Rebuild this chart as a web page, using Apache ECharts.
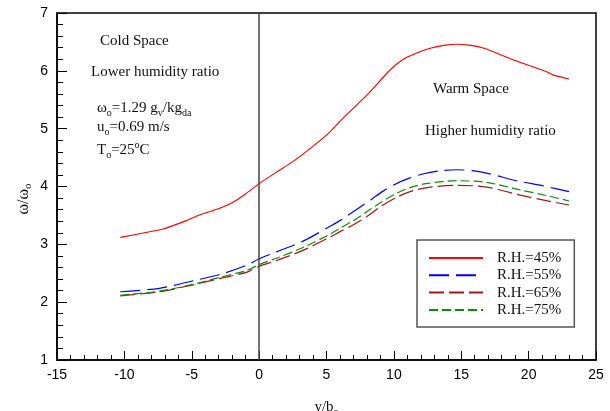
<!DOCTYPE html>
<html>
<head>
<meta charset="utf-8">
<script src="https://cdn.jsdelivr.net/npm/echarts@6/dist/echarts.min.js"></script>
<style>
html,body{margin:0;padding:0;background:#fff;}
#chart{width:610px;height:411px;}
</style>
</head>
<body>
<div id="chart"></div>
<script>
// ---- data ----
const seriesNames = ['R.H.=45%', 'R.H.=55%', 'R.H.=65%', 'R.H.=75%'];

const x45 = [-10.3, -8.5, -7.2, -5.4, -4.4, -3.1, -2.0, -1.2, 0, 1.3, 2.5, 3.8, 5.1, 6.3, 8.0, 9.7, 10.7, 11.7, 12.7, 13.7, 14.7, 15.7, 16.7, 17.9, 19.1, 20.2, 21.3, 21.8, 23.0];
const y45 = [3.12, 3.20, 3.26, 3.41, 3.51, 3.61, 3.72, 3.84, 4.05, 4.25, 4.43, 4.66, 4.91, 5.20, 5.58, 6.01, 6.20, 6.31, 6.39, 6.44, 6.46, 6.44, 6.39, 6.28, 6.17, 6.08, 5.99, 5.93, 5.86];

const x55 = [-10.3, -7.4, -4.9, -2.9, -0.9, 0, 1.3, 3.3, 5.4, 6.0, 7.4, 8.4, 9.2, 10.1, 11.1, 12.2, 13.4, 14.7, 16.7, 19.1, 21.1, 23.0];
const y55 = [2.18, 2.24, 2.37, 2.48, 2.64, 2.75, 2.87, 3.06, 3.33, 3.41, 3.63, 3.79, 3.92, 4.04, 4.14, 4.22, 4.27, 4.29, 4.24, 4.10, 4.01, 3.91];

const x65 = [-10.3, -7.4, -4.9, -2.9, -0.9, 0, 1.3, 3.3, 5.3, 6.0, 7.0, 8.0, 9.0, 10.1, 11.3, 12.7, 14.7, 16.9, 19.4, 21.4, 23.0];
const y65 = [2.11, 2.18, 2.30, 2.41, 2.52, 2.62, 2.72, 2.90, 3.13, 3.22, 3.34, 3.48, 3.65, 3.80, 3.92, 3.99, 4.02, 3.99, 3.85, 3.75, 3.68];

const x75 = [-10.3, -7.4, -4.9, -2.9, -0.9, 0, 1.3, 3.3, 5.3, 6.0, 7.0, 7.9, 9.0, 10.1, 11.2, 12.4, 14.7, 16.9, 19.4, 21.4, 23.0];
const y75 = [2.12, 2.19, 2.31, 2.43, 2.55, 2.65, 2.76, 2.95, 3.18, 3.28, 3.41, 3.55, 3.72, 3.87, 3.98, 4.05, 4.10, 4.07, 3.94, 3.84, 3.75];

const xTicks = [-15, -10, -5, 0, 5, 10, 15, 20, 25];
const yTicks = [1, 2, 3, 4, 5, 6, 7];
const dividerX = 0;

function pairs(xs, ys) { return xs.map((x, i) => [x, ys[i]]); }

const serif = '"Liberation Serif", "Times New Roman", serif';
const sans = '"Liberation Sans", Arial, sans-serif';

const chart = echarts.init(document.getElementById('chart'), null, {renderer: 'canvas'});

const richSub = {
  n: {fontFamily: serif, fontSize: 15, lineHeight: 20, verticalAlign: 'middle', color: '#111'},
  s: {fontFamily: serif, fontSize: 10, lineHeight: 10, verticalAlign: 'bottom', color: '#111'},
  p: {fontFamily: serif, fontSize: 10, lineHeight: 10, verticalAlign: 'top', color: '#111'}
};
const richYName = {
  n: {fontFamily: serif, fontSize: 16, lineHeight: 20, verticalAlign: 'middle', color: '#111'},
  s: {fontFamily: serif, fontSize: 11, lineHeight: 10, verticalAlign: 'bottom', color: '#111'}
};

function txt(x, y, text) {
  return {
    type: 'text', left: x, top: y,
    style: {text: text, rich: richSub, fontFamily: serif, fontSize: 15, fill: '#111'}
  };
}

const option = {
  backgroundColor: '#fff',
  animation: false,
  grid: {left: 57, right: 14, top: 13, bottom: 51, containLabel: false, outerBoundsMode: 'none',
         show: true, borderColor: '#000', borderWidth: 1.5, backgroundColor: 'transparent'},
  xAxis: {
    type: 'value', min: xTicks[0], max: xTicks[xTicks.length - 1], interval: 5,
    name: '{n|y/b}{s|o}', nameLocation: 'middle', nameGap: 37,
    nameTextStyle: {rich: richSub},
    axisLine: {show: true, onZero: false, lineStyle: {color: '#000', width: 1.5}},
    axisTick: {show: true, inside: true, length: 9, lineStyle: {color: '#000', width: 1}},
    minorTick: {show: true, splitNumber: 5, length: 5, lineStyle: {color: '#000', width: 1}},
    splitLine: {show: false},
    axisLabel: {color: '#000', fontFamily: sans, fontSize: 14, margin: 8}
  },
  yAxis: {
    type: 'value', min: yTicks[0], max: yTicks[yTicks.length - 1], interval: 1,
    axisLine: {show: true, onZero: false, lineStyle: {color: '#000', width: 1.5}},
    axisTick: {show: true, inside: true, length: 10, lineStyle: {color: '#000', width: 1}},
    minorTick: {show: true, splitNumber: 5, length: 6, lineStyle: {color: '#000', width: 1}},
    splitLine: {show: false},
    axisLabel: {color: '#000', fontFamily: sans, fontSize: 14, margin: 9}
  },
  legend: {
    orient: 'vertical', left: 417, top: 240,
    data: seriesNames,
    itemWidth: 54, itemHeight: 14, itemGap: 0.3,
    padding: [9.5, 13, 8.5, 11],
    borderColor: '#555', borderWidth: 1.5,
    backgroundColor: '#fff',
    itemStyle: {opacity: 0},
    textStyle: {fontFamily: serif, fontSize: 15, lineHeight: 17, color: '#111', padding: [0, 0, 0, 9]},
    selectedMode: false
  },
  series: [
    {
      name: seriesNames[0], type: 'line', data: pairs(x45, y45), showSymbol: false, symbol: 'none', smooth: 0.2,
      lineStyle: {color: '#ff0000', width: 1.1, type: 'solid'}, itemStyle: {color: '#ff0000'},
      markLine: {
        silent: true, symbol: 'none', label: {show: false},
        lineStyle: {color: '#444', width: 1.5, type: 'solid'},
        data: [{xAxis: dividerX}]
      },
      z: 3
    },
    {
      name: seriesNames[1], type: 'line', data: pairs(x55, y55), showSymbol: false, symbol: 'none', smooth: 0.3,
      lineStyle: {color: '#0000ff', width: 1.2, type: [20, 7]}, itemStyle: {color: '#0000ff'}
    },
    {
      name: seriesNames[2], type: 'line', data: pairs(x65, y65), showSymbol: false, symbol: 'none', smooth: 0.3,
      lineStyle: {color: '#a01818', width: 1.2, type: [15, 5]}, itemStyle: {color: '#a01818'}
    },
    {
      name: seriesNames[3], type: 'line', data: pairs(x75, y75), showSymbol: false, symbol: 'none', smooth: 0.3,
      lineStyle: {color: '#118811', width: 1.2, type: [9, 4]}, itemStyle: {color: '#118811'}
    }
  ],
  graphic: [
    txt(100, 34, '{n|Cold Space}'),
    txt(91, 65, '{n|Lower humidity ratio}'),
    txt(97, 101, '{n|\u03c9}{s|o}{n|=1.29 g}{s|v}{n|/kg}{s|da}'),
    txt(97, 120, '{n|u}{s|o}{n|=0.69 m/s}'),
    txt(97, 140, '{n|T}{s|o}{n|=25}{p|o}{n|C}'),
    txt(433, 82, '{n|Warm Space}'),
    txt(425, 124, '{n|Higher humidity ratio}'),
    {
      type: 'text', x: 24, y: 199, rotation: Math.PI / 2,
      style: {text: '{n|\u03c9/\u03c9}{s|o}', rich: richYName, fontFamily: serif, fontSize: 16,
              fill: '#111', align: 'center', verticalAlign: 'middle'}
    }
  ]
};
chart.setOption(option);
</script>
</body>
</html>
